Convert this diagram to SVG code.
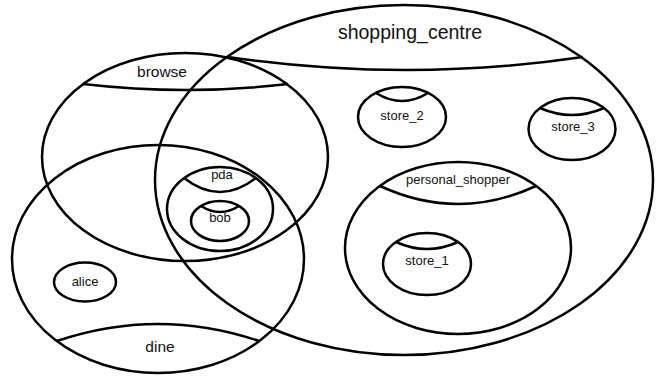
<svg xmlns="http://www.w3.org/2000/svg" width="656" height="377" viewBox="0 0 656 377">
<style>
.e{fill:none;stroke:#000;stroke-width:2.5}
.d{fill:none;stroke:#000;stroke-width:2.5}
.t{font-family:"Liberation Sans",Arial,sans-serif;fill:#111;text-anchor:middle}
.s{font-size:13px}
.m{font-size:15.5px}
.l{font-size:19.5px}
</style>
<rect width="656" height="377" fill="#fff"/>
<g id="shopping_centre">
<ellipse class="e" cx="404" cy="180" rx="249" ry="175"/>
<path class="d" d="M228,57 Q406,83 583,57"/>
<text class="t l" x="410" y="39">shopping_centre</text>
</g>
<g id="browse">
<ellipse class="e" cx="185" cy="157" rx="143" ry="104"/>
<path class="d" d="M83,84 Q186,96 288,84"/>
<text class="t m" x="162" y="77">browse</text>
</g>
<g id="dine">
<ellipse class="e" cx="158" cy="259" rx="146" ry="114"/>
<path class="d" d="M57,341 Q158,307 259,341"/>
<text class="t m" x="160" y="352">dine</text>
</g>
<g id="alice">
<ellipse class="e" cx="85" cy="282" rx="31" ry="19.5"/>
<text class="t s" x="85" y="286">alice</text>
</g>
<g id="pda">
<ellipse class="e" cx="220" cy="209" rx="53" ry="42"/>
<path class="d" d="M184,178 Q220,206 256,178"/>
<text class="t s" x="222" y="179">pda</text>
</g>
<g id="bob">
<ellipse class="e" cx="220" cy="221" rx="29" ry="20"/>
<path class="d" d="M201,206 Q220,218 239,206"/>
<text class="t s" x="220" y="222">bob</text>
</g>
<g id="store_2">
<ellipse class="e" cx="402" cy="117" rx="44" ry="30"/>
<path class="d" d="M376,93 Q402,109 428,93"/>
<text class="t s" x="402" y="120">store_2</text>
</g>
<g id="store_3">
<ellipse class="e" cx="572" cy="129" rx="43.5" ry="31"/>
<path class="d" d="M540,108 Q572,122 604,108"/>
<text class="t s" x="573" y="131">store_3</text>
</g>
<g id="personal_shopper">
<ellipse class="e" cx="458" cy="248" rx="113" ry="86"/>
<path class="d" d="M380,186 Q458,222 536,186"/>
<text class="t s" x="458" y="184">personal_shopper</text>
</g>
<g id="store_1">
<ellipse class="e" cx="427" cy="264" rx="44" ry="31"/>
<path class="d" d="M396,242 Q427,256 458,242"/>
<text class="t s" x="427" y="265">store_1</text>
</g>
</svg>
